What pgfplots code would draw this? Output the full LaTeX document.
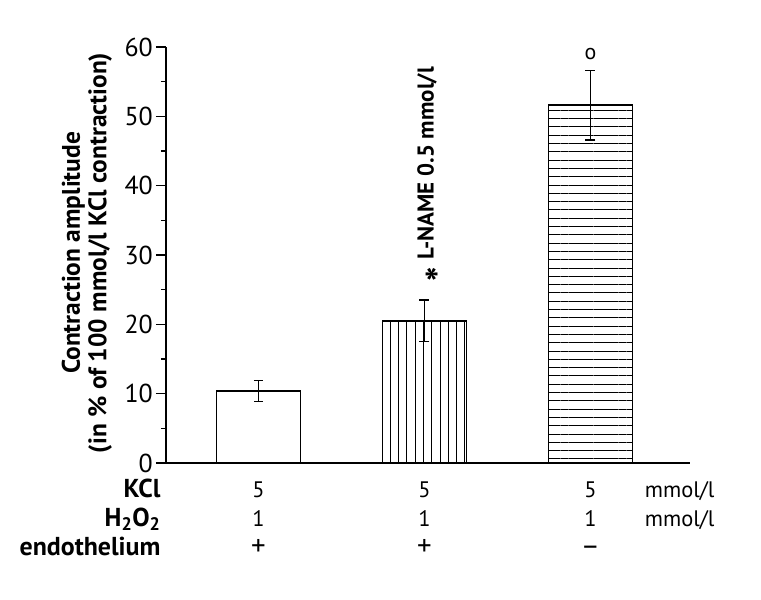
\documentclass[border=0pt]{standalone}
\usepackage{fontspec}
\setmainfont{PT Sans}
\usepackage{pgfplots}
\pgfplotsset{compat=1.18}
\usetikzlibrary{patterns.meta}
\begin{document}
\begin{tikzpicture}
\path[use as bounding box] (-166bp,-137bp) rectangle (595bp,463bp);
\begin{axis}[
  at={(0,0)}, anchor=south west,
  scale only axis, width=524bp, height=416bp,
  xmin=-0.557, xmax=2.60, ymin=0, ymax=60,
  axis x line=bottom, axis y line=left,
  axis line style={-, line width=1.6bp},
  xtick=\empty,
  ytick={0,10,...,60}, minor y tick num=1,
  tick align=outside,
  major tick length=10bp, minor tick length=5bp,
  every tick/.style={black, line width=1.6bp},
  /pgf/number format/assume math mode=true,
  yticklabel style={font=\fontsize{26}{30}\selectfont, inner sep=0pt, anchor=east, xshift=-3bp},
  ylabel={Contraction amplitude\\(in \% of 100 mmol/l KCl contraction)},
  ylabel style={at={(axis description cs:-0.151,0.505)}, anchor=center, align=center,
    font=\bfseries\fontsize{25.5}{26.5}\selectfont},
  clip=false,
]
\addplot[ybar, bar width=84bp, bar shift=0pt, draw=black, line width=1.8bp, fill=white,
  error bars/.cd, y dir=both, y explicit,
  error bar style={line width=0.9bp}, error mark options={rotate=90, mark size=4.5bp, line width=0.9bp}]
  coordinates {(0,10.4) +- (0,1.5)};
\addplot[ybar, bar width=84bp, bar shift=0pt, draw=black, line width=1.8bp,
  postaction={pattern={Lines[angle=90, distance=8.3bp, line width=0.8bp]}, pattern color=black},
  error bars/.cd, y dir=both, y explicit,
  error bar style={line width=1.6bp}, error mark options={rotate=90, mark size=5bp, line width=1.6bp}]
  coordinates {(1,20.5) +- (0,3.0)};
\addplot[ybar, bar width=84bp, bar shift=0pt, draw=black, line width=1.8bp,
  postaction={pattern={Lines[angle=0, distance=8.3bp, line width=0.8bp]}, pattern color=black},
  error bars/.cd, y dir=both, y explicit,
  error bar style={line width=1.6bp}, error mark options={rotate=90, mark size=5bp, line width=1.6bp}]
  coordinates {(2,51.6) +- (0,5.0)};
% annotations
\node[anchor=north, inner sep=0pt, font=\bfseries\fontsize{40}{40}\selectfont] at (axis cs:1.045,28.1) {*};
\node[font=\fontsize{22}{22}\selectfont] at (axis cs:2,59.0) {o};
\node[rotate=90, font=\bfseries\fontsize{23}{26}\selectfont] at (axis cs:1.015,43.2) {L-NAME 0.5 mmol/l};
% rows
\def\rowfont{\fontsize{22.5}{26}\selectfont}
\def\rowbfont{\bfseries\fontsize{26}{28}\selectfont}
\def\plusfont{\fontsize{29}{30}\selectfont}
\node[anchor=base east, font=\rowbfont] at ([xshift=-2bp,yshift=-34bp]axis description cs:0,0) {KCl};
\node[anchor=base east, font=\rowbfont] at ([xshift=-2bp,yshift=-63bp]axis description cs:0,0) {H\textsubscript{2}O\textsubscript{2}};
\node[anchor=base east, font=\rowbfont] at ([xshift=-2bp,yshift=-92bp]axis description cs:0,0) {endothelium};
\node[anchor=base, font=\rowfont] at ([yshift=-34bp]axis cs:0,0) {5};
\node[anchor=base, font=\rowfont] at ([yshift=-34bp]axis cs:1,0) {5};
\node[anchor=base, font=\rowfont] at ([yshift=-34bp]axis cs:2,0) {5};
\node[anchor=base, font=\rowfont] at ([yshift=-63bp]axis cs:0,0) {1};
\node[anchor=base, font=\rowfont] at ([yshift=-63bp]axis cs:1,0) {1};
\node[anchor=base, font=\rowfont] at ([yshift=-63bp]axis cs:2,0) {1};
\node[anchor=base, font=\plusfont] at ([yshift=-92bp]axis cs:0,0) {+};
\node[anchor=base, font=\plusfont] at ([yshift=-92bp]axis cs:1,0) {+};
\node[anchor=base, font=\plusfont] at ([yshift=-92bp]axis cs:2,0) {\textendash};
\node[anchor=base west, font=\rowfont] at ([xshift=51bp,yshift=-34bp]axis cs:2,0) {mmol/l};
\node[anchor=base west, font=\rowfont] at ([xshift=51bp,yshift=-63bp]axis cs:2,0) {mmol/l};
\end{axis}
\end{tikzpicture}
\end{document}
